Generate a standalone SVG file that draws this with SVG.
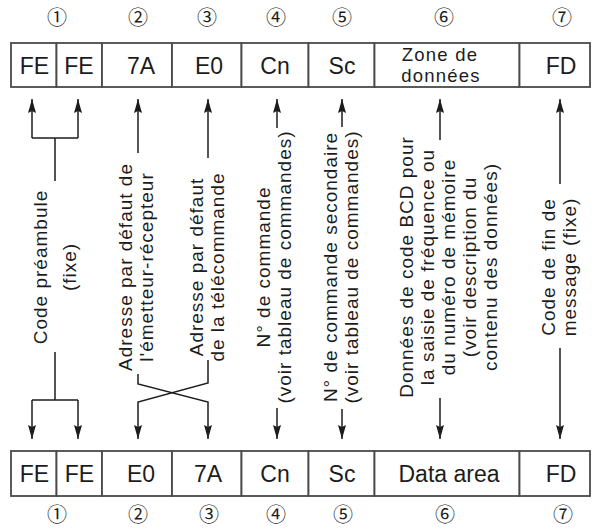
<svg xmlns="http://www.w3.org/2000/svg" width="592" height="528" viewBox="0 0 592 528">
<style>
.cell{fill:#fff;stroke:#4a4a4a;stroke-width:1.8}
.bt{font-family:"Liberation Sans",Arial,sans-serif;font-size:23px;text-anchor:middle;fill:#1c1c1c}
.bt2{font-family:"Liberation Sans",Arial,sans-serif;font-size:18.5px;letter-spacing:1.2px;text-anchor:middle;fill:#1c1c1c}
.vt{font-family:"Liberation Sans",Arial,sans-serif;font-size:19px;letter-spacing:1px;text-anchor:middle;fill:#1c1c1c}
.num{font-family:"Noto Sans CJK JP","DejaVu Sans",sans-serif;font-size:20px;text-anchor:middle;fill:#1c1c1c}
.ln{stroke:#1c1c1c;stroke-width:1.5;fill:none}
.ar{stroke:#1c1c1c;stroke-width:1.5;fill:none;marker-end:url(#ah)}
</style>
<defs>
<marker id="ah" viewBox="0 0 14 10" refX="14" refY="5" markerWidth="14" markerHeight="10" markerUnits="userSpaceOnUse" orient="auto">
<path d="M0,1 L14,5 L0,9 L2,5 z" fill="#1c1c1c"/>
</marker>
</defs>
<rect width="592" height="528" fill="#fff"/>

<g id="top-numbers" class="num">
<text x="57" y="25">①</text><text x="138" y="25">②</text><text x="207" y="25">③</text><text x="276" y="25">④</text><text x="342" y="25">⑤</text><text x="444" y="25">⑥</text><text x="562" y="25">⑦</text>
</g>

<g id="top-fe1"><rect class="cell" x="11" y="43" width="45.5" height="44"/><text class="bt" x="34.5" y="74">FE</text></g>
<g id="top-fe2"><rect class="cell" x="56.5" y="43" width="45.5" height="44"/><text class="bt" x="79" y="74">FE</text></g>
<g id="top-7a"><rect class="cell" x="102" y="43" width="70" height="44"/><text class="bt" x="141" y="74">7A</text></g>
<g id="top-e0"><rect class="cell" x="172" y="43" width="69.5" height="44"/><text class="bt" x="209" y="74">E0</text></g>
<g id="top-cn"><rect class="cell" x="241.5" y="43" width="67" height="44"/><text class="bt" x="275" y="74">Cn</text></g>
<g id="top-sc"><rect class="cell" x="308.5" y="43" width="66" height="44"/><text class="bt" x="342" y="74">Sc</text></g>
<g id="top-zone"><rect class="cell" x="374.5" y="43" width="145" height="44"/><text class="bt2" x="440" y="61">Zone de</text><text class="bt2" x="441" y="82">données</text></g>
<g id="top-fd"><rect class="cell" x="519.5" y="43" width="70.5" height="44"/><text class="bt" x="561" y="74">FD</text></g>

<g id="bottom-fe1"><rect class="cell" x="11" y="451" width="45.5" height="45"/><text class="bt" x="34.5" y="482">FE</text></g>
<g id="bottom-fe2"><rect class="cell" x="56.5" y="451" width="45.5" height="45"/><text class="bt" x="79.5" y="482">FE</text></g>
<g id="bottom-e0"><rect class="cell" x="102" y="451" width="70" height="45"/><text class="bt" x="141" y="482">E0</text></g>
<g id="bottom-7a"><rect class="cell" x="172" y="451" width="69.5" height="45"/><text class="bt" x="208" y="482">7A</text></g>
<g id="bottom-cn"><rect class="cell" x="241.5" y="451" width="67" height="45"/><text class="bt" x="275" y="482">Cn</text></g>
<g id="bottom-sc"><rect class="cell" x="308.5" y="451" width="66" height="45"/><text class="bt" x="342" y="482">Sc</text></g>
<g id="bottom-data"><rect class="cell" x="374.5" y="451" width="145" height="45"/><text class="bt" x="449" y="482">Data area</text></g>
<g id="bottom-fd"><rect class="cell" x="519.5" y="451" width="70.5" height="45"/><text class="bt" x="561" y="482">FD</text></g>

<g id="bottom-numbers" class="num">
<text x="57" y="522">①</text><text x="138" y="522">②</text><text x="209" y="522">③</text><text x="276" y="522">④</text><text x="343" y="522">⑤</text><text x="445" y="522">⑥</text><text x="563" y="522">⑦</text>
</g>

<g id="connectors">
<line class="ar" x1="32" y1="138" x2="32" y2="99"/>
<line class="ar" x1="78" y1="138" x2="78" y2="99"/>
<path class="ln" d="M32,138 H78 M55,138 V181 M55,352 V400 M32,400 H78"/>
<line class="ar" x1="32" y1="400" x2="32" y2="439"/>
<line class="ar" x1="78" y1="400" x2="78" y2="439"/>
<line class="ar" x1="138" y1="153" x2="138" y2="99"/>
<polyline class="ar" points="138,374 138,384 208,402 208,439"/>
<line class="ar" x1="208" y1="158" x2="208" y2="99"/>
<polyline class="ar" points="208,360 208,383 138,402 138,439"/>
<line class="ar" x1="277" y1="128" x2="277" y2="99"/>
<line class="ar" x1="277" y1="408" x2="277" y2="439"/>
<line class="ar" x1="342" y1="127" x2="342" y2="99"/>
<line class="ar" x1="342" y1="409" x2="342" y2="439"/>
<line class="ar" x1="440" y1="140" x2="440" y2="99"/>
<line class="ar" x1="440" y1="398" x2="440" y2="439"/>
<line class="ar" x1="560" y1="184" x2="560" y2="99"/>
<line class="ar" x1="560" y1="348" x2="560" y2="439"/>
</g>

<g id="label-1"><text class="vt" transform="translate(47,267) rotate(-90)">Code préambule<tspan x="0" dy="29">(fixe)</tspan></text></g>
<g id="label-2"><text class="vt" transform="translate(132,267) rotate(-90)">Adresse par défaut de<tspan x="0" dy="21">l'émetteur-récepteur</tspan></text></g>
<g id="label-3"><text class="vt" transform="translate(203,267) rotate(-90)">Adresse par défaut<tspan x="0" dy="21">de la télécommande</tspan></text></g>
<g id="label-4"><text class="vt" transform="translate(270,267) rotate(-90)">N° de commande<tspan x="0" dy="21">(voir tableau de commandes)</tspan></text></g>
<g id="label-5"><text class="vt" transform="translate(337,267) rotate(-90)">N° de commande secondaire<tspan x="0" dy="21">(voir tableau de commandes)</tspan></text></g>
<g id="label-6"><text class="vt" transform="translate(413,267) rotate(-90)">Données de code BCD pour<tspan x="0" dy="21">la saisie de fréquence ou</tspan><tspan x="0" dy="21">du numéro de mémoire</tspan><tspan x="0" dy="21">(voir description du</tspan><tspan x="0" dy="21">contenu des données)</tspan></text></g>
<g id="label-7"><text class="vt" transform="translate(555,267) rotate(-90)">Code de fin de<tspan x="0" dy="21">message (fixe)</tspan></text></g>
</svg>
